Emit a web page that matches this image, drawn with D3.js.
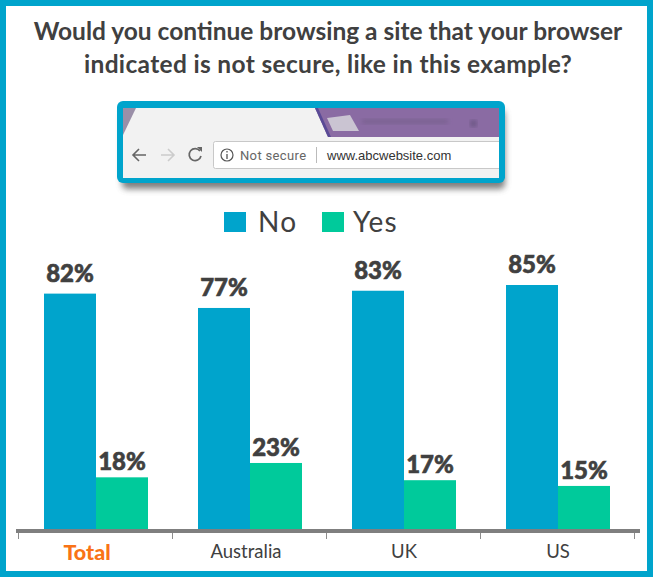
<!DOCTYPE html>
<html>
<head>
<meta charset="utf-8">
<script src="https://cdn.jsdelivr.net/npm/d3@7"></script>
<style>
    html, body { margin: 0; padding: 0; background: #fff; }
    svg { display: block; }
</style>
</head>
<body>
<div id="viz"></div>
<script>
const categories = ["Total", "Australia", "UK", "US"];
const seriesNames = ["No", "Yes"];
const noValues = [82, 77, 83, 85];
const yesValues = [18, 23, 17, 15];

const width = 653;
const height = 577;
const teal = "#00a4cc";
const green = "#00ca9b";
const textFill = "#404040";
const fontBody = "Lato, 'Open Sans', sans-serif";

const colors = { No: teal, Yes: green };
const labelGap = { No: 12, Yes: 7 };

const svg = d3.select("#viz")
    .append("svg")
    .attr("width", width)
    .attr("height", height)
    .style("font-family", fontBody);

svg.append("rect").attr("width", width).attr("height", height).attr("fill", teal);
svg.append("rect").attr("x", 6).attr("y", 6).attr("width", width - 12).attr("height", height - 12).attr("fill", "#fff");

//Title
const titleLines = ["Would you continue browsing a site that your browser", "indicated is not secure, like in this example?"];
svg.selectAll(".title")
    .data(titleLines)
    .join("text")
    .attr("class", "title")
    .attr("x", 328)
    .attr("y", (d, i) => 40 + i * 33)
    .attr("text-anchor", "middle")
    .attr("font-size", 24.5)
    .attr("font-weight", 700)
    .attr("letter-spacing", (d, i) => i == 0 ? 0 : 0.33)
    .attr("fill", textFill)
    .text(d => d);

//Browser screenshot
const defs = svg.append("defs");
const shadow = defs.append("filter").attr("id", "shadow").attr("x", "-5%").attr("y", "-20%").attr("width", "110%").attr("height", "150%");
shadow.append("feGaussianBlur").attr("stdDeviation", 3);
const soft = defs.append("filter").attr("id", "soft");
soft.append("feGaussianBlur").attr("stdDeviation", 2);

const shot = svg.append("g");
shot.append("rect").attr("x", 122).attr("y", 110).attr("width", 383).attr("height", 79).attr("rx", 5)
    .attr("fill", "#555").attr("opacity", 0.75).attr("filter", "url(#shadow)");
shot.append("rect").attr("x", 117).attr("y", 101).attr("width", 388).attr("height", 82).attr("rx", 6).attr("fill", teal);
shot.append("rect").attr("x", 123).attr("y", 108).attr("width", 376).attr("height", 70).attr("fill", "#f2f2f2");
shot.append("path").attr("d", "M123,108H136L123,135Z").attr("fill", "#9a8fa8");
shot.append("path").attr("d", "M315,108H499V137H328Z").attr("fill", "#8a6ba3");
shot.append("path").attr("d", "M315,108H318L331,137H328Z").attr("fill", "#5a4a96");
shot.append("path").attr("d", "M327,118L350,115L359,131H333Z").attr("fill", "#cac4d2");
shot.append("rect").attr("x", 362).attr("y", 119).attr("width", 86).attr("height", 5).attr("fill", "#7b6292").attr("filter", "url(#soft)");
shot.append("rect").attr("x", 470).attr("y", 120).attr("width", 7).attr("height", 7).attr("fill", "#6f5a88").attr("filter", "url(#soft)");
shot.append("rect").attr("x", 213.5).attr("y", 141.5).attr("width", 290).attr("height", 27).attr("rx", 2)
    .attr("fill", "#fff").attr("stroke", "#c8c8c8");
shot.append("rect").attr("x", 499).attr("y", 108).attr("width", 6).attr("height", 70).attr("fill", teal);
shot.append("path").attr("d", "M146,155H133M139,149L133,155L139,161").attr("fill", "none").attr("stroke", "#666").attr("stroke-width", 1.6);
shot.append("path").attr("d", "M161,155H174M168,149L174,155L168,161").attr("fill", "none").attr("stroke", "#ccc").attr("stroke-width", 1.6);
shot.append("path").attr("d", "M200,151A6,6 0 1,0 201,156").attr("fill", "none").attr("stroke", "#666").attr("stroke-width", 1.7);
shot.append("path").attr("d", "M197,147H202V152Z").attr("fill", "#666");
shot.append("circle").attr("cx", 227).attr("cy", 155).attr("r", 6).attr("fill", "none").attr("stroke", "#555").attr("stroke-width", 1.2);
shot.append("path").attr("d", "M227,154V159M227,151V152.5").attr("stroke", "#555").attr("stroke-width", 1.3);
shot.append("text").attr("x", 240).attr("y", 160).attr("font-family", "Roboto, sans-serif").attr("font-size", 13).attr("letter-spacing", 0.35).attr("fill", "#666").text("Not secure");
shot.append("line").attr("x1", 316.5).attr("x2", 316.5).attr("y1", 147).attr("y2", 163).attr("stroke", "#bbb");
shot.append("text").attr("x", 327).attr("y", 160).attr("font-family", "'Liberation Sans', sans-serif").attr("font-size", 13).attr("fill", "#333").text("www.abcwebsite.com");

//Legend
const legend = svg.selectAll(".legend")
    .data(seriesNames)
    .join("g")
    .attr("class", "legend")
    .attr("transform", (d, i) => `translate(${224 + i * 98},212)`);
legend.append("rect").attr("width", 22).attr("height", 20).attr("fill", d => colors[d]);
legend.append("text")
    .attr("x", (d, i) => i == 0 ? 34 : 31)
    .attr("y", 20)
    .attr("font-size", 28)
    .attr("font-weight", 400)
    .attr("letter-spacing", 1.2)
    .attr("fill", textFill)
    .text(d => d);

//Chart
const baseline = 529;
const x = d3.scaleBand().domain(categories).range([19, 635]);
const xSeries = d3.scaleBand().domain(seriesNames).range([25, 129]);
const y = d3.scaleLinear().domain([0, 85]).range([baseline, 285]);

const rows = categories.map((c, i) => ({ category: c, No: noValues[i], Yes: yesValues[i] }));

const groups = svg.selectAll(".group")
    .data(rows)
    .join("g")
    .attr("class", "group")
    .attr("transform", d => `translate(${x(d.category)},0)`);

const cells = groups.selectAll("g")
    .data(d => seriesNames.map(s => ({ series: s, value: d[s] })))
    .join("g");

cells.append("rect")
    .attr("x", d => xSeries(d.series))
    .attr("y", d => y(d.value))
    .attr("width", xSeries.bandwidth())
    .attr("height", d => baseline - y(d.value))
    .attr("fill", d => colors[d.series]);

cells.append("text")
    .attr("x", d => xSeries(d.series) + xSeries.bandwidth() / 2)
    .attr("y", d => y(d.value) - labelGap[d.series])
    .attr("text-anchor", "middle")
    .attr("font-size", 24)
    .attr("font-weight", 900)
    .attr("stroke", textFill)
    .attr("stroke-width", 0.6)
    .attr("fill", textFill)
    .text(d => d.value + "%");

//Axis
const xAxisG = svg.append("g")
    .attr("transform", `translate(0,${baseline + 3})`)
    .call(d3.axisBottom(x).tickSize(0).tickPadding(13));
xAxisG.select(".domain").remove();
svg.append("line").attr("x1", 16).attr("x2", 640).attr("y1", baseline + 2).attr("y2", baseline + 2)
    .attr("stroke", "#7f7f7f").attr("stroke-width", 4);
svg.selectAll(".boundary")
    .data(categories.concat("end"))
    .join("line")
    .attr("class", "boundary")
    .attr("x1", (d, i) => x.range()[0] + i * x.step() - 0.5)
    .attr("x2", (d, i) => x.range()[0] + i * x.step() - 0.5)
    .attr("y1", baseline + 4)
    .attr("y2", baseline + 10)
    .attr("stroke", "#8c8c8c");

const labelNudge = { Total: -9, Australia: -4 };
xAxisG.selectAll(".tick text")
    .attr("dx", d => labelNudge[d] || 0)
    .attr("font-family", fontBody)
    .attr("font-size", d => d == "Total" ? 21.5 : 18.5)
    .attr("font-weight", d => d == "Total" ? 900 : 400)
    .attr("fill", d => d == "Total" ? "#f97316" : textFill);
</script>
</body>
</html>
